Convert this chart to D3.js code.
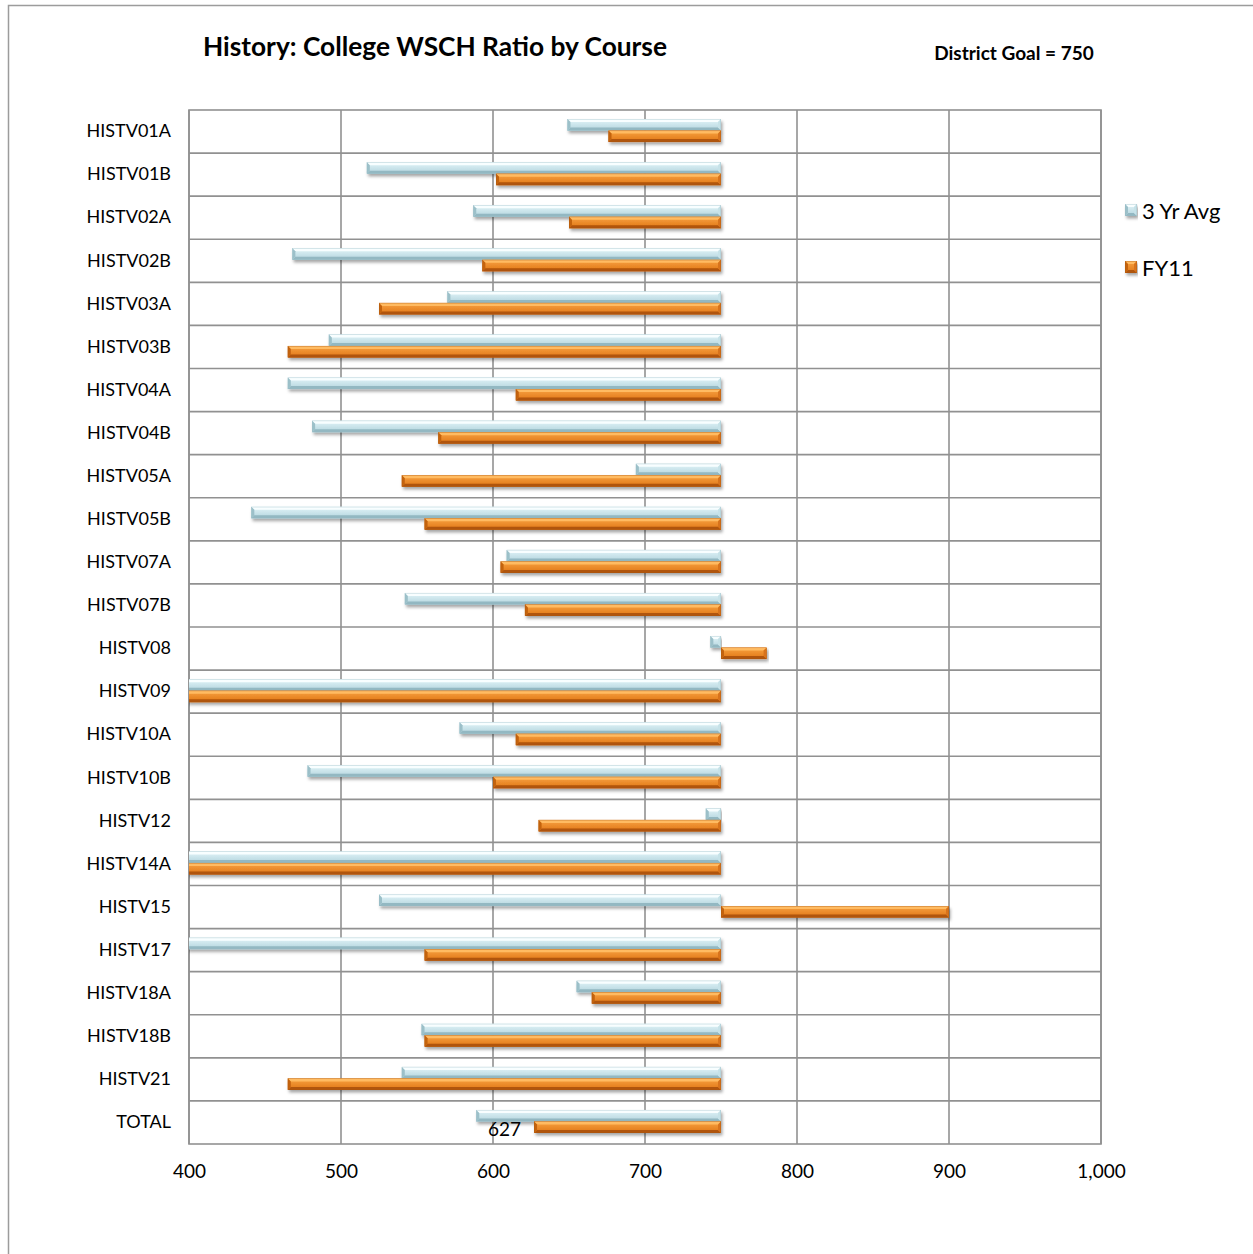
<!DOCTYPE html>
<html>
<head>
<meta charset="utf-8">
<script src="https://cdn.jsdelivr.net/npm/d3@7"></script>
<style>
  html, body { margin: 0; padding: 0; background: #ffffff; }
  svg { display: block; font-family: Lato, "Open Sans", sans-serif; }
</style>
</head>
<body>
<svg id="chart" width="1253" height="1254"></svg>
<script>
// Courses, top to bottom
const courses = ["HISTV01A","HISTV01B","HISTV02A","HISTV02B","HISTV03A","HISTV03B",
  "HISTV04A","HISTV04B","HISTV05A","HISTV05B","HISTV07A","HISTV07B","HISTV08",
  "HISTV09","HISTV10A","HISTV10B","HISTV12","HISTV14A","HISTV15","HISTV17",
  "HISTV18A","HISTV18B","HISTV21","TOTAL"];

// WSCH ratio per course
const avg3yr = [649, 517, 587, 468, 570, 492, 465, 481, 694, 441, 609, 542, 743,
  0, 578, 478, 740, 0, 525, 385, 655, 553, 540, 589];
const fy11 = [676, 602, 650, 593, 525, 465, 615, 564, 540, 555, 605, 621, 780,
  0, 615, 600, 630, 0, 900, 555, 665, 555, 465, 627];

const seriesNames = ["3 Yr Avg", "FY11"];
const xTicks = [400, 500, 600, 700, 800, 900, 1000];
const goal = 750;              // bars grow from the district goal
const labelled = [{course: "TOTAL", series: 1}];

const palettes = [
  { top: "#f8feff", bodyTop: "#e4f5f9", bodyBot: "#b2d4dd", bottom: "#93b8c2",
    capL: "#9cc0c9", capR: "#c6e2e8", edge: "#98bbc5" },
  { top: "#ffbb62", bodyTop: "#f8a342", bodyBot: "#e07616", bottom: "#b0540a",
    capL: "#c4630e", capR: "#d8731a", edge: "#ac5610" }
];

const svg = d3.select("#chart");
const defs = svg.append("defs");

const plot = { left: 189, right: 1101, top: 110, bottom: 1144 };

// outer frame of the chart object
svg.append("rect").attr("x", 8.5).attr("y", 5.5).attr("width", 1260).attr("height", 1260)
  .attr("fill", "#fff").attr("stroke", "#9c9c9c").attr("stroke-width", 1.5);

const x = d3.scaleLinear().domain([400, 1000]).range([plot.left, plot.right]);
const y0 = d3.scaleBand().domain(courses).range([plot.top, plot.bottom]).padding(0);
const groupH = 23;
const y1 = d3.scaleBand().domain(seriesNames)
  .range([(y0.bandwidth() - groupH) / 2 - 1, (y0.bandwidth() + groupH) / 2 - 1]).padding(0);

// gradients and shadow
palettes.forEach((p, i) => {
  const g = defs.append("linearGradient").attr("id", "grad" + i)
    .attr("x1", 0).attr("y1", 0).attr("x2", 0).attr("y2", 1);
  g.append("stop").attr("offset", "0%").attr("stop-color", p.bodyTop);
  g.append("stop").attr("offset", "100%").attr("stop-color", p.bodyBot);
});
const f = defs.append("filter").attr("id", "shadow")
  .attr("x", "-5%").attr("y", "-50%").attr("width", "110%").attr("height", "220%");
f.append("feDropShadow").attr("dx", 1.5).attr("dy", 2.5).attr("stdDeviation", 1.6)
  .attr("flood-color", "#000").attr("flood-opacity", 0.35);

defs.append("clipPath").attr("id", "plotClip").append("rect")
  .attr("x", plot.left).attr("y", plot.top)
  .attr("width", plot.right - plot.left).attr("height", plot.bottom - plot.top);

// gridlines
const grid = svg.append("g");
grid.selectAll("line.v").data(xTicks).join("line")
  .attr("x1", d => x(d)).attr("x2", d => x(d))
  .attr("y1", plot.top).attr("y2", plot.bottom)
  .attr("stroke", "#919191").attr("stroke-width", 1.6);
grid.selectAll("line.h").data(courses.slice(1)).join("line")
  .attr("x1", plot.left).attr("x2", plot.right)
  .attr("y1", d => y0(d)).attr("y2", d => y0(d))
  .attr("stroke", "#919191").attr("stroke-width", 1.6);
grid.append("rect").attr("x", plot.left).attr("y", plot.top)
  .attr("width", plot.right - plot.left).attr("height", plot.bottom - plot.top)
  .attr("fill", "none").attr("stroke", "#919191").attr("stroke-width", 1.6);

// bevelled bar
function bevelBar(g, bx, by, bw, bh, p, capLeft, capRight) {
  const b = Math.min(3, bw / 2);
  const s = g.append("g").attr("filter", "url(#shadow)");
  s.append("rect").attr("x", bx).attr("y", by).attr("width", bw).attr("height", bh)
    .attr("fill", `url(#grad${palettes.indexOf(p)})`);
  const pts = a => a.map(q => q.join(",")).join(" ");
  s.append("polygon").attr("points", pts([[bx, by], [bx + bw, by], [bx + bw - (capRight ? b : 0), by + b], [bx + (capLeft ? b : 0), by + b]]))
    .attr("fill", p.top);
  s.append("polygon").attr("points", pts([[bx, by + bh], [bx + bw, by + bh], [bx + bw - (capRight ? b : 0), by + bh - b], [bx + (capLeft ? b : 0), by + bh - b]]))
    .attr("fill", p.bottom);
  if (capLeft) s.append("polygon").attr("points", pts([[bx, by], [bx + b, by + b], [bx + b, by + bh - b], [bx, by + bh]]))
    .attr("fill", p.capL);
  if (capRight) s.append("polygon").attr("points", pts([[bx + bw, by], [bx + bw - b, by + b], [bx + bw - b, by + bh - b], [bx + bw, by + bh]]))
    .attr("fill", p.capR);
  s.append("rect").attr("x", bx + 0.25).attr("y", by + 0.25).attr("width", Math.max(0, bw - 0.5)).attr("height", bh - 0.5)
    .attr("fill", "none").attr("stroke", p.edge).attr("stroke-width", 0.5).attr("opacity", 0.7);
}

const barsG = svg.append("g").attr("clip-path", "url(#plotClip)");
const rows = courses.map((c, i) => ({ course: c, vals: [avg3yr[i], fy11[i]] }));
rows.forEach(r => {
  r.vals.forEach((v, si) => {
    const xa = x(goal), xb = x(v);
    const left = Math.min(xa, xb), w = Math.abs(xb - xa);
    const by = y0(r.course) + y1(seriesNames[si]);
    const clippedLeft = v < 400;
    const start = Math.max(left, plot.left - 2);
    bevelBar(barsG, start, by, w - (start - left), y1.bandwidth(),
      palettes[si], !clippedLeft, true);
  });
});

// data label
labelled.forEach(l => {
  const i = courses.indexOf(l.course);
  const v = (l.series === 0 ? avg3yr : fy11)[i];
  svg.append("text")
    .attr("x", x(v) - 13)
    .attr("y", y0(l.course) + y1(seriesNames[l.series]) + y1.bandwidth() / 2 + 1)
    .attr("text-anchor", "end").attr("dominant-baseline", "central")
    .attr("font-size", 19).attr("fill", "#000").text(v);
});

// axes
const xAxis = svg.append("g").attr("transform", `translate(0,${plot.bottom})`)
  .call(d3.axisBottom(x).tickValues(xTicks).tickFormat(d3.format(",")).tickSize(0).tickPadding(21));
xAxis.select(".domain").remove();
xAxis.selectAll("text").attr("font-size", 19).attr("fill", "#000").attr("font-family", "Lato, sans-serif");

const yAxis = svg.append("g").attr("transform", `translate(${plot.left},0)`)
  .call(d3.axisLeft(y0).tickSize(0).tickPadding(18));
yAxis.select(".domain").remove();
yAxis.selectAll("text").attr("font-size", 18).attr("fill", "#000").attr("font-family", "Lato, sans-serif");

// title and goal note
svg.append("text").attr("x", 435).attr("y", 56).attr("text-anchor", "middle")
  .attr("font-size", 26.3).attr("font-weight", "bold").text("History: College WSCH Ratio by Course");
svg.append("text").attr("x", 1014).attr("y", 60).attr("text-anchor", "middle")
  .attr("font-size", 19).attr("font-weight", "bold").text("District Goal = " + goal);

// legend
const legend = svg.append("g");
seriesNames.forEach((name, i) => {
  const ly = 210 + i * 57;
  bevelBar(legend, 1125, ly - 6, 12, 12, palettes[i], true, true);
  legend.append("text").attr("x", 1142).attr("y", ly).attr("dominant-baseline", "central")
    .attr("font-size", 22).attr("fill", "#000").text(name);
});
</script>
</body>
</html>
